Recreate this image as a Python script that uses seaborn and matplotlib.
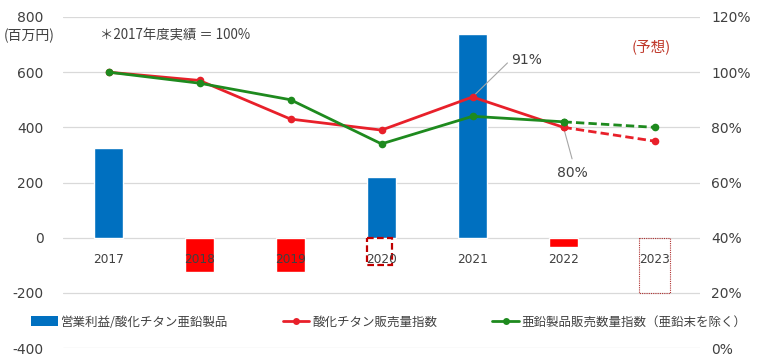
import numpy as np
import pandas as pd
import matplotlib
matplotlib.use("Agg")
import matplotlib.pyplot as plt
from matplotlib.lines import Line2D
from matplotlib.patches import Patch
import seaborn as sns

# ---------------- data ----------------
years = ["2017", "2018", "2019", "2020", "2021", "2022", "2023"]
profit = [325, -125, -125, 220, 740, -35, np.nan]          # 営業利益 (百万円)
tio2_index = [100, 97, 83, 79, 91, 80, 75]                   # 酸化チタン販売量指数 (%)
zinc_index = [100, 96, 90, 74, 84, 82, 80]                   # 亜鉛製品販売数量指数 (%)
highlight_2020 = -100                                        # dashed highlight box at 2020
forecast_box_2023 = -200                                     # dotted forecast box at 2023
left_ticks = [-400, -200, 0, 200, 400, 600, 800]
right_ticks = [0, 20, 40, 60, 80, 100, 120]
legend_labels = ["営業利益/酸化チタン亜鉛製品", "酸化チタン販売量指数", "亜鉛製品販売数量指数（亜鉛末を除く）"]

BLUE = "#0070C0"
RED_BAR = "#FF0000"
RED_LINE = "#E8202A"
GREEN = "#1E8A1E"
GRID = "#D9D9D9"
TXT = "#404040"
DARKRED = "#C0392B"

sns.set_theme(style="white")
plt.rcParams["font.family"] = ["Noto Sans CJK JP", "DejaVu Sans"]

fig = plt.figure(figsize=(7.57, 3.57), dpi=100)
ax = fig.add_axes([63 / 757, 1 - 348 / 357, 637 / 757, 331 / 357])

# gridlines behind everything
for t in left_ticks:
    ax.axhline(t, color=GRID, linewidth=0.9, zorder=0)

df = pd.DataFrame({"year": years, "profit": profit})
df["sign"] = np.where(df["profit"] >= 0, "pos", "neg")
sns.barplot(data=df.dropna(), x="year", y="profit", hue="sign", order=years,
            palette={"pos": BLUE, "neg": RED_BAR}, dodge=False, width=0.32,
            saturation=1, legend=False, ax=ax, zorder=1)

# highlight boxes
ax.bar([years.index("2020") - 0.02], [highlight_2020], width=0.27, fill=False,
       edgecolor="#C00000", linestyle=(0, (3, 1.5)), linewidth=1.6, zorder=1.5)
ax.bar([years.index("2023")], [forecast_box_2023], width=0.33, fill=False,
       edgecolor="#B03030", linestyle=(0, (1, 1)), linewidth=0.8, zorder=1.5)

ax.set_ylim(-400, 800)
ax.set_xlim(-0.5, 6.5)
ax.set_yticks(left_ticks)
ax.set_yticklabels([str(t) for t in left_ticks], fontfamily="DejaVu Sans",
                   fontsize=10, color=TXT)
ax.grid(False)
for s in ax.spines.values():
    s.set_visible(False)
ax.spines["bottom"].set_position(("data", 0))
ax.set_xlabel("")
ax.set_ylabel("")
ax.tick_params(axis="x", length=0, pad=11, labelsize=8.7, labelcolor=TXT)
ax.tick_params(axis="y", length=0, pad=14)
for lbl in ax.get_xticklabels():
    lbl.set_fontfamily("DejaVu Sans")
ax.xaxis.set_zorder(3)

# ---------------- lines on right axis ----------------
ax2 = ax.twinx()
pos = list(range(len(years)))
for vals, col in [(tio2_index, RED_LINE), (zinc_index, GREEN)]:
    sns.lineplot(x=pos[:6], y=vals[:6], ax=ax2, color=col, linewidth=2.0,
                 marker="o", markersize=5.5, markeredgewidth=0, zorder=4)
    sns.lineplot(x=pos[5:], y=vals[5:], ax=ax2, color=col, linewidth=2.0,
                 linestyle=(0, (3, 1.5)), marker="o", markersize=5.5,
                 markeredgewidth=0, zorder=4)
ax2.set_ylim(0, 120)
ax2.set_xlim(-0.5, 6.5)
ax2.set_yticks(right_ticks)
ax2.set_yticklabels([f"{t}%" for t in right_ticks], fontfamily="DejaVu Sans",
                    fontsize=10, color=TXT)
ax2.tick_params(axis="y", length=0, pad=8)
for s in ax2.spines.values():
    s.set_visible(False)
ax2.grid(False)
ax2.set_ylabel("")

# data labels with leader lines
ax2.annotate(f"{tio2_index[4]}%", xy=(4, tio2_index[4]), xytext=(4.42, 104.5),
             fontsize=10, color=TXT, fontfamily="DejaVu Sans", va="center",
             arrowprops=dict(arrowstyle="-", color="#A6A6A6", lw=0.8,
                             shrinkA=0, shrinkB=0, relpos=(0, 0.5)))
ax2.annotate(f"{tio2_index[5]}%", xy=(5, tio2_index[5]), xytext=(4.93, 63.4),
             fontsize=10, color=TXT, fontfamily="DejaVu Sans", va="center",
             arrowprops=dict(arrowstyle="-", color="#A6A6A6", lw=0.8,
                             shrinkA=3, shrinkB=0, relpos=(0.55, 1)))

# texts
fig.text(4 / 757, 1 - 36 / 357, "(百万円)", fontsize=10, color=TXT, va="center", ha="left")
fig.text(100 / 757, 1 - 36 / 357, "＊2017年度実績 ＝ 100%", fontsize=9.6, color=TXT,
         va="center", ha="left")
fig.text(651 / 757, 1 - 47 / 357, "(予想)", fontsize=10.5, color=DARKRED,
         va="center", ha="center")

# legend
handles = [
    Patch(facecolor=BLUE, edgecolor="none"),
    Line2D([0], [0], color=RED_LINE, lw=2, marker="o", markersize=5, markeredgewidth=0),
    Line2D([0], [0], color=GREEN, lw=2, marker="o", markersize=5, markeredgewidth=0),
]
leg = fig.legend(handles, legend_labels, ncol=3, loc="center left",
                 bbox_to_anchor=(20 / 757, 1 - 322 / 357), frameon=False,
                 fontsize=9, handlelength=2.1, handleheight=0.8, handletextpad=0.25,
                 columnspacing=4.4, labelcolor=TXT)

fig.savefig("out.png", dpi=100)
